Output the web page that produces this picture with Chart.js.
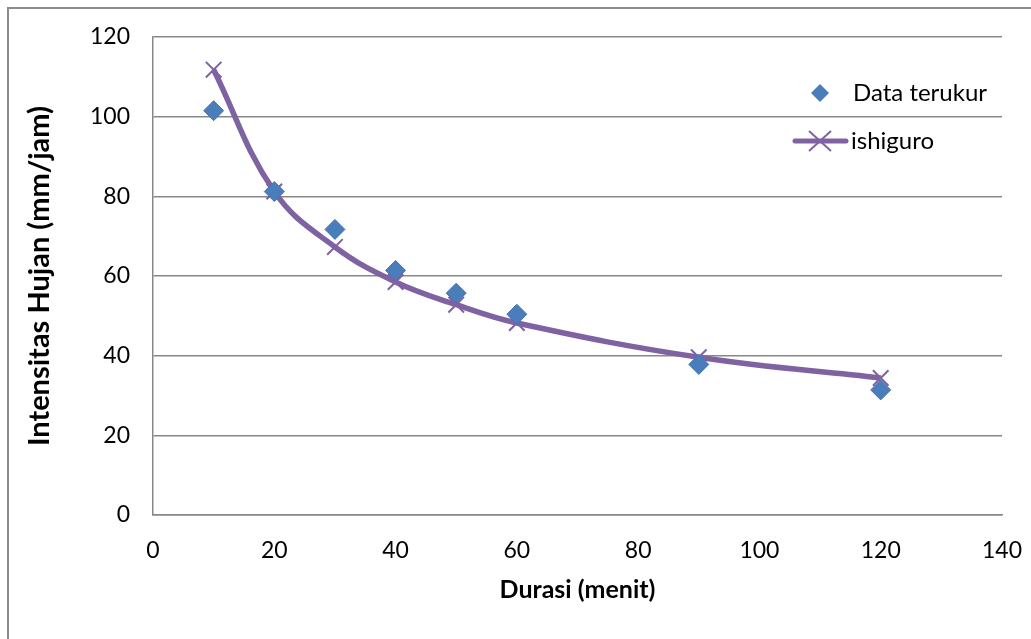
<!DOCTYPE html>
<html>
<head>
<meta charset="utf-8">
<script src="https://cdn.jsdelivr.net/npm/chart.js@4.4.1/dist/chart.umd.min.js"></script>
<style>
  html, body { margin: 0; padding: 0; background: #fff; }
  #wrap { width: 1031px; height: 639px; }
</style>
</head>
<body>
<div id="wrap"><canvas id="idfChart" width="1031" height="639"></canvas></div>
<script>
const durasi = [10, 20, 30, 40, 50, 60, 90, 120];
const dataTerukur = [101.5, 81.2, 71.7, 61.4, 55.7, 50.4, 37.8, 31.4];
const ishiguro = [111.8, 81.2, 67.3, 58.5, 52.8, 48.2, 39.6, 34.4];
const xTicks = [0, 20, 40, 60, 80, 100, 120, 140];
const yTicks = [0, 20, 40, 60, 80, 100, 120];

const blue = '#4a7ebb';
const purple = '#7f62a1';
const gridGray = '#878787';
const fontFamily = 'Lato, "Open Sans", sans-serif';

const toPoints = ys => durasi.map((x, i) => ({ x: x, y: ys[i] }));

// bingkai luar + legenda di dalam area plot
const frameLegend = {
  id: 'frameLegend',
  beforeDraw(chart) {
    const ctx = chart.ctx;
    ctx.save();
    ctx.fillStyle = '#fff';
    ctx.fillRect(0, 0, chart.width, chart.height);
    ctx.strokeStyle = '#8c8c8c';
    ctx.lineWidth = 2;
    ctx.strokeRect(8, 8, chart.width + 20, chart.height + 20);
    ctx.restore();
  },
  afterDraw(chart) {
    const ctx = chart.ctx;
    ctx.save();
    // Data terukur
    const dx = 820, dy = 93, r = 9;
    ctx.beginPath();
    ctx.moveTo(dx, dy - r);
    ctx.lineTo(dx + r, dy);
    ctx.lineTo(dx, dy + r);
    ctx.lineTo(dx - r, dy);
    ctx.closePath();
    ctx.fillStyle = blue;
    ctx.fill();
    ctx.font = '24px ' + fontFamily;
    ctx.fillStyle = '#000';
    ctx.textBaseline = 'middle';
    ctx.fillText('Data terukur', 853, dy);
    // ishiguro
    const ly = 141;
    ctx.strokeStyle = purple;
    ctx.lineCap = 'round';
    ctx.lineWidth = 5;
    ctx.beginPath();
    ctx.moveTo(795, ly);
    ctx.lineTo(846, ly);
    ctx.stroke();
    ctx.lineWidth = 2;
    ctx.lineCap = 'butt';
    ctx.beginPath();
    ctx.moveTo(809, ly - 10); ctx.lineTo(831, ly + 10);
    ctx.moveTo(831, ly - 10); ctx.lineTo(809, ly + 10);
    ctx.stroke();
    ctx.fillText('ishiguro', 851, ly);
    ctx.restore();
  }
};

new Chart(document.getElementById('idfChart'), {
  type: 'scatter',
  data: {
    datasets: [
      {
        label: 'Data terukur',
        data: toPoints(dataTerukur),
        showLine: false,
        pointStyle: 'rectRot',
        pointRadius: 10,
        pointHoverRadius: 10,
        backgroundColor: blue,
        borderColor: '#4577b3',
        borderWidth: 1
      },
      {
        label: 'ishiguro',
        data: toPoints(ishiguro),
        showLine: true,
        tension: 0.4,
        borderColor: purple,
        borderWidth: 5.5,
        pointStyle: 'crossRot',
        pointRadius: 11,
        pointHoverRadius: 11,
        pointBorderWidth: 2,
        pointBorderColor: purple,
        backgroundColor: purple
      }
    ]
  },
  options: {
    responsive: false,
    animation: false,
    layout: { padding: { left: 0, top: 37, right: 29, bottom: 0 } },
    plugins: {
      legend: { display: false },
      tooltip: { enabled: false }
    },
    scales: {
      x: {
        type: 'linear',
        min: 0,
        max: 140,
        afterBuildTicks: s => { s.ticks = xTicks.map(v => ({ value: v })); },
        afterFit: s => { s.height = 124; s.paddingLeft = 0; s.paddingRight = 0; },
        grid: { display: false, drawTicks: false },
        border: { display: true, color: gridGray, width: 1.5 },
        ticks: { color: '#000', padding: 22, font: { family: fontFamily, size: 23 } },
        title: {
          display: true,
          text: 'Durasi (menit)',
          color: '#000',
          padding: { top: 0, bottom: 34 },
          font: { family: fontFamily, size: 25, weight: 'bold' }
        }
      },
      y: {
        type: 'linear',
        min: 0,
        max: 120,
        afterBuildTicks: s => { s.ticks = yTicks.map(v => ({ value: v })); },
        afterFit: s => { s.width = 153; s.paddingTop = 0; s.paddingBottom = 0; },
        grid: { color: gridGray, lineWidth: 1.5, drawTicks: false },
        border: { display: true, color: gridGray, width: 1.5 },
        ticks: { color: '#000', padding: 23, font: { family: fontFamily, size: 23 } },
        title: {
          display: true,
          text: 'Intensitas Hujan (mm/jam)',
          color: '#000',
          padding: { top: 22, bottom: 0 },
          font: { family: fontFamily, size: 29, weight: 'bold' }
        }
      }
    }
  },
  plugins: [frameLegend]
});
</script>
</body>
</html>
